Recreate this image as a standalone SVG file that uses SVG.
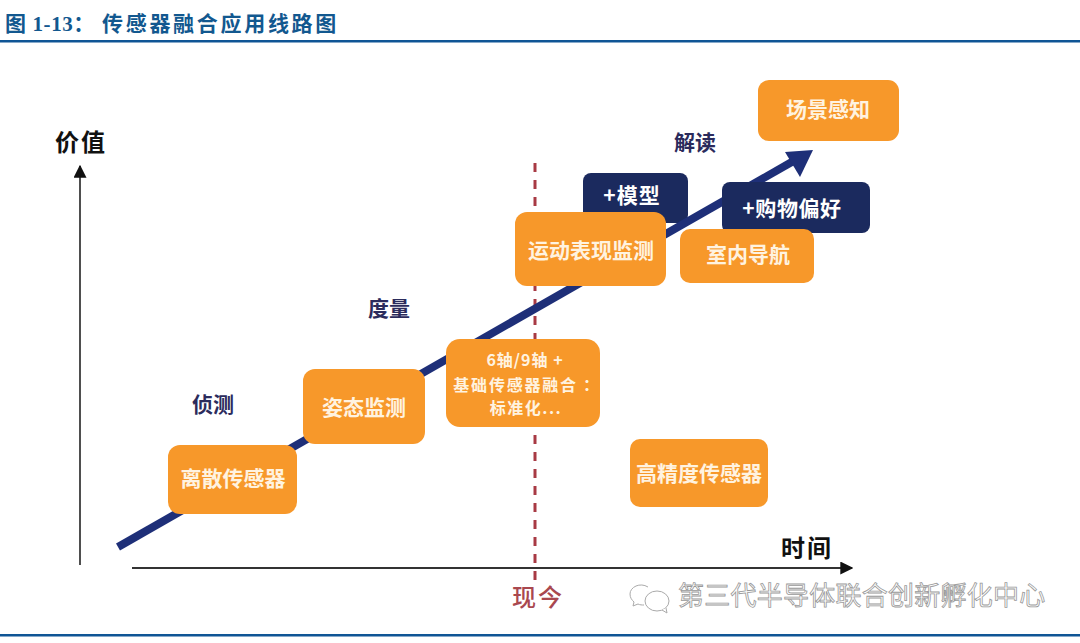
<svg xmlns="http://www.w3.org/2000/svg" width="1080" height="643" viewBox="0 0 1080 643">
<style>
text{font-family:"Noto Sans CJK SC","Liberation Sans",sans-serif;font-weight:700}
.title{font-family:"Liberation Serif","Noto Sans CJK SC",serif;font-size:21px;fill:#12588f}
.rule{fill:#0f5595}
.box{fill:#f7982a}
.dark{fill:#1b2a5e}
.t{fill:#fff3e0;font-size:21px;text-anchor:middle}
.s{fill:#fff3e0;font-size:16px;text-anchor:middle}
.w{fill:#fff;font-size:21px;text-anchor:middle}
.phase{fill:#2b2b5c;font-size:21px;text-anchor:middle}
.axis{fill:#111;font-size:24px;text-anchor:middle;letter-spacing:2px}
</style>
<defs>
<marker id="ah" viewBox="0 0 10 10" refX="9" refY="5" markerWidth="13" markerHeight="13" markerUnits="userSpaceOnUse" orient="auto"><path d="M0 0L10 5L0 10Z" fill="#111"/></marker>
</defs>
<rect width="1080" height="643" fill="#fff"/>
<text class="title" x="5" y="31" letter-spacing="0.6">图 1-13：</text>
<text class="title" x="102" y="31" letter-spacing="2.7">传感器融合应用线路图</text>
<rect class="rule" x="0" y="40" width="1080" height="2.5"/>
<rect class="rule" x="0" y="634" width="1080" height="2.5"/>

<g id="node-model"><rect class="dark" x="583" y="173" width="105" height="50" rx="8"/><text class="w" x="632" y="203" letter-spacing="1">+模型</text></g>

<g id="connectors" fill="none">
<path d="M80 565V166" stroke="#222" stroke-width="1.6" marker-end="url(#ah)"/>
<path d="M132 568H852" stroke="#333" stroke-width="2" marker-end="url(#ah)"/>
<path d="M535 163V582" stroke="#a83a44" stroke-width="3" stroke-dasharray="9 8"/>
<path d="M118 547L797 159" stroke="#1e2f78" stroke-width="8"/>
<path d="M813 150L785 152L800 177Z" fill="#1e2f78"/>
</g>

<g id="node-scene"><rect class="box" x="758" y="80" width="141" height="61" rx="11"/><text class="t" x="828" y="117">场景感知</text></g>
<g id="node-shopping"><rect class="dark" x="722" y="182" width="148" height="51" rx="8"/><text class="w" x="792" y="216" letter-spacing="0.6">+购物偏好</text></g>
<g id="node-indoor"><rect class="box" x="680" y="229" width="134" height="54" rx="10"/><text class="t" x="748" y="262">室内导航</text></g>
<g id="node-motion"><rect class="box" x="515" y="212" width="151" height="74" rx="12"/><text class="t" x="591" y="258">运动表现监测</text></g>
<g id="node-fusion"><rect class="box" x="446" y="339" width="154" height="88" rx="14"/>
<text class="s" x="525" y="366" letter-spacing="1">6轴/9轴 +</text><text class="s" x="527" y="391" letter-spacing="1.8">基础传感器融合<tspan dx="5">：</tspan></text><text class="s" x="526" y="414" letter-spacing="1.5">标准化...</text></g>
<g id="node-posture"><rect class="box" x="303" y="369" width="122" height="75" rx="12"/><text class="t" x="364" y="415">姿态监测</text></g>
<g id="node-discrete"><rect class="box" x="168" y="445" width="129" height="69" rx="12"/><text class="t" x="233" y="486">离散传感器</text></g>
<g id="node-precision"><rect class="box" x="630" y="439" width="138" height="68" rx="10"/><text class="t" x="699" y="481">高精度传感器</text></g>

<text class="axis" x="81" y="151">价值</text>
<text class="axis" x="807" y="557">时间</text>
<text class="phase" x="695" y="150">解读</text>
<text class="phase" x="389" y="316">度量</text>
<text class="phase" x="213" y="412">侦测</text>
<text x="538" y="606" fill="#a9484f" font-size="24" text-anchor="middle" letter-spacing="2" style="font-weight:500">现今</text>

<g id="watermark">
<g fill="#fff" stroke="#aaa" stroke-width="1">
<path d="M648 587c-8-5-18 0-18 7 0 4 2 6 4 8l-1 4 5-2c2 1 4 1 6 1"/>
<ellipse cx="657" cy="601" rx="12" ry="10"/>
<path d="M662 610l5 3-1-5"/>
</g>
<text x="678" y="605" font-size="26" letter-spacing="0.25" fill="#fff" stroke="#999" stroke-width="0.8" style="font-weight:400">第三代半导体联合创新孵化中心</text>
</g>
</svg>
